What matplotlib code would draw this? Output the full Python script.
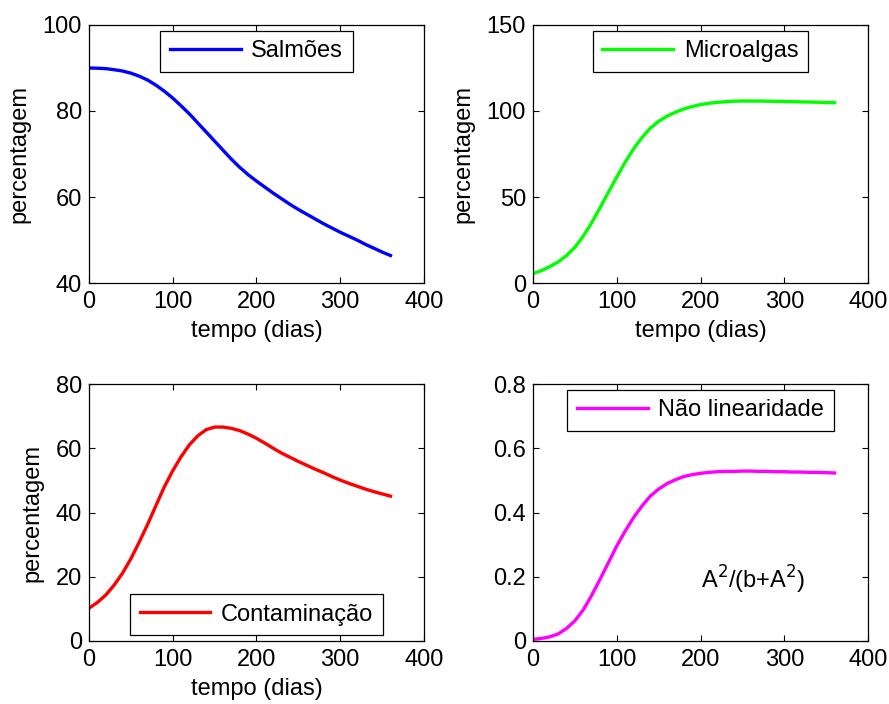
import numpy as np
import matplotlib
matplotlib.use('Agg')
import matplotlib.pyplot as plt

plt.rcParams['font.family'] = ['Liberation Sans', 'DejaVu Sans']

# tempo (dias)
tempo = [0, 10, 20, 30, 40, 50, 60, 70, 80, 90, 100, 110, 120, 130, 140, 150, 160, 170, 180,
         190, 200, 210, 220, 230, 240, 250, 260, 270, 280, 290, 300, 310, 320, 330, 340, 350, 360]

salmoes = [90.0, 89.95, 89.85, 89.6, 89.3, 88.8, 88.1, 87.2, 86.0, 84.6, 83.0, 81.2, 79.3,
           77.2, 75.1, 73.0, 70.9, 68.8, 66.9, 65.2, 63.7, 62.3, 60.9, 59.6, 58.3, 57.1,
           56.0, 54.9, 53.8, 52.8, 51.8, 50.9, 50.0, 49.0, 48.1, 47.2, 46.4]

microalgas = [5.5, 7.2, 9.5, 12.3, 16.0, 20.8, 27.3, 35.0, 43.8, 52.8, 61.6, 70.2, 78.0,
              84.5, 90.0, 94.0, 97.0, 99.3, 101.2, 102.6, 103.7, 104.5, 105.0, 105.4, 105.7,
              105.8, 105.8, 105.8, 105.7, 105.6, 105.5, 105.4, 105.3, 105.2, 105.1, 104.9, 104.8]

contaminacao = [10.2, 12.0, 14.3, 17.4, 21.1, 25.6, 30.8, 36.3, 42.2, 48.0, 53.0, 57.4, 61.1,
                63.9, 65.8, 66.6, 66.6, 66.2, 65.5, 64.4, 63.1, 61.6, 60.0, 58.5, 57.2, 55.9,
                54.7, 53.5, 52.4, 51.2, 50.1, 49.1, 48.2, 47.3, 46.5, 45.8, 45.1]

nao_linear = [0.005, 0.008, 0.013, 0.022, 0.039, 0.063, 0.097, 0.142, 0.192, 0.244, 0.296,
              0.342, 0.384, 0.420, 0.451, 0.473, 0.490, 0.502, 0.512, 0.518, 0.522, 0.525,
              0.527, 0.528, 0.528, 0.529, 0.529, 0.528, 0.528, 0.527, 0.527, 0.526, 0.526,
              0.525, 0.525, 0.524, 0.523]

panels = [
    # (series, color, label, ylim, yticks, legend loc, axes rect, labels?)
    (salmoes, (0, 0, 1), 'Salmões', (40, 100), [40, 60, 80, 100], 'upper center',
     [0.1001, 0.598, 0.3768, 0.3665], True),
    (microalgas, (0, 1, 0), 'Microalgas', (0, 150), [0, 50, 100, 150], 'upper center',
     [0.5996, 0.598, 0.3768, 0.3665], True),
    (contaminacao, (1, 0, 0), 'Contaminação', (0, 80), [0, 20, 40, 60, 80], 'lower center',
     [0.1001, 0.0895, 0.3768, 0.365], True),
    (nao_linear, (1, 0, 1), 'Não linearidade', (0, 0.8), [0, 0.2, 0.4, 0.6, 0.8], 'upper center',
     [0.5996, 0.0895, 0.3768, 0.365], False),
]

fig = plt.figure(figsize=(8.89, 7.04), dpi=100)

for serie, cor, nome, ylim, yticks, loc, rect, rotulos in panels:
    ax = fig.add_axes(rect)
    ax.plot(tempo, serie, color=cor, lw=2.4, label=nome)
    ax.set_xlim(0, 400)
    ax.set_ylim(*ylim)
    ax.set_xticks([0, 100, 200, 300, 400])
    ax.set_yticks(yticks)
    ax.set_yticklabels([('%g' % v) for v in yticks])
    ax.tick_params(direction='in', length=4, width=0.8, top=True, right=True,
                   labelsize=17, colors='black')
    ax.tick_params(axis='x', pad=6)
    ax.tick_params(axis='y', pad=5)
    for s in ax.spines.values():
        s.set_linewidth(0.9)
    if rotulos:
        ax.set_xlabel('tempo (dias)', fontsize=17, labelpad=5)
        ax.set_ylabel('percentagem', fontsize=17, labelpad=9)
    leg = ax.legend(loc=loc, fontsize=17, fancybox=False, framealpha=1,
                    edgecolor='black', borderpad=0.4, handlelength=3.0,
                    handletextpad=0.45, borderaxespad=0.25)
    leg.get_frame().set_linewidth(0.9)
    if nome == 'Não linearidade':
        ax.text(200, 0.19, r'A$^2$/(b+A$^2$)', fontsize=17, ha='left', va='center')

fig.savefig('out.png', dpi=100)
